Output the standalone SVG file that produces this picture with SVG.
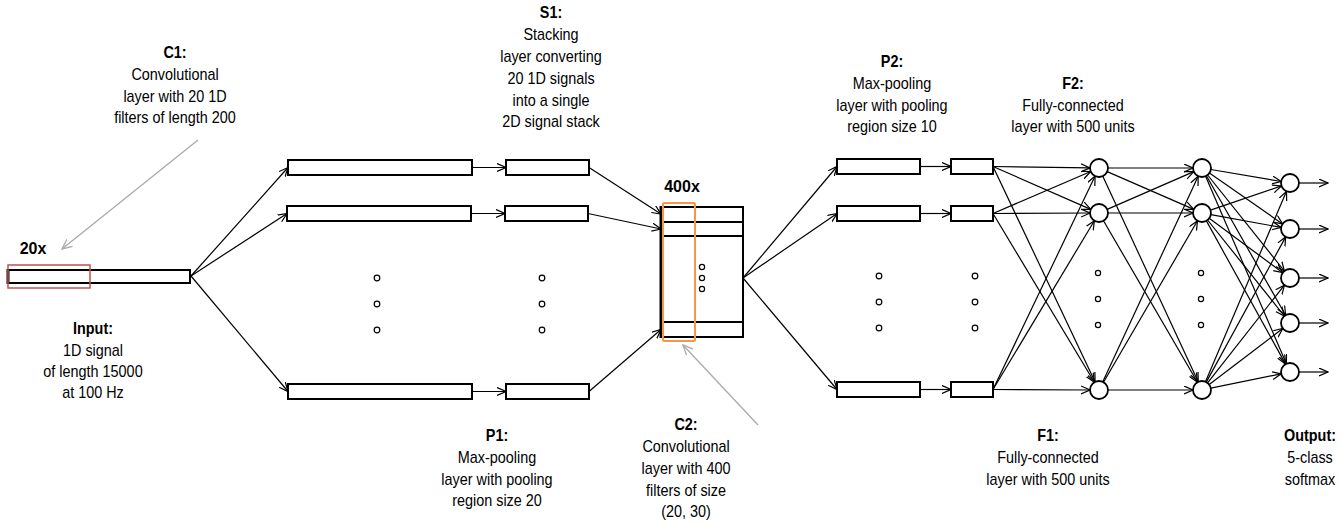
<svg xmlns="http://www.w3.org/2000/svg" width="1340" height="525" viewBox="0 0 1340 525">
<defs>
<marker id="ah" markerWidth="10" markerHeight="10" refX="9" refY="4.5" orient="auto" markerUnits="userSpaceOnUse">
<path d="M0,0.5 L9,4.5 L0,8.5" fill="none" stroke="#000" stroke-width="1.2"/>
</marker>
<marker id="ahg" markerWidth="12" markerHeight="12" refX="10" refY="5" orient="auto" markerUnits="userSpaceOnUse">
<path d="M0,0.5 L10,5 L0,9.5" fill="none" stroke="#aaa" stroke-width="1.3"/>
</marker>
</defs>
<style>
.bar{fill:#fff;stroke:#000;stroke-width:2}
.n{fill:#fff;stroke:#000;stroke-width:1.8}
.dot{fill:#fff;stroke:#000;stroke-width:1.2}
.c line{stroke:#000;stroke-width:1.2;marker-end:url(#ah)}
.g{stroke:#aaa;stroke-width:1.3;fill:none}
text{font-family:"Liberation Sans",Arial,sans-serif;font-size:16px;fill:#000;text-anchor:middle}
.b{font-weight:bold}
</style>
<rect width="1340" height="525" fill="#fff"/>

<!-- connectors -->
<g id="connectors" class="c">
<line x1="191" y1="276" x2="288" y2="167.5"/>
<line x1="191" y1="276" x2="287" y2="213.5"/>
<line x1="191" y1="276" x2="288" y2="391.5"/>
<line x1="472" y1="167.5" x2="506" y2="167.5"/>
<line x1="471" y1="213.5" x2="505" y2="213.5"/>
<line x1="472" y1="391.5" x2="506" y2="391.5"/>
<line x1="589" y1="167.5" x2="661" y2="214"/>
<line x1="588" y1="213.5" x2="661" y2="229"/>
<line x1="589" y1="391.5" x2="661" y2="329.5"/>
<line x1="743" y1="278" x2="837" y2="166.5"/>
<line x1="743" y1="278" x2="837" y2="213.5"/>
<line x1="743" y1="278" x2="837" y2="389.5"/>
<line x1="920" y1="166.5" x2="951" y2="166.5"/>
<line x1="920" y1="213.5" x2="951" y2="213.5"/>
<line x1="920" y1="389.5" x2="951" y2="389.5"/>
<!-- P2 -> F1 -->
<line x1="993" y1="166.5" x2="1090" y2="167.9"/>
<line x1="993" y1="166.5" x2="1090.8" y2="209.4"/>
<line x1="993" y1="166.5" x2="1095.1" y2="381.9"/>
<line x1="993" y1="213.5" x2="1090.7" y2="171.5"/>
<line x1="993" y1="213.5" x2="1090" y2="213"/>
<line x1="993" y1="213.5" x2="1094.4" y2="382.3"/>
<line x1="993" y1="389.5" x2="1095.1" y2="176.1"/>
<line x1="993" y1="389.5" x2="1094.4" y2="220.7"/>
<line x1="993" y1="389.5" x2="1090" y2="390"/>
<!-- F1 -> F2 -->
<line x1="1108" y1="168" x2="1193" y2="168"/>
<line x1="1107.2" y1="171.6" x2="1193.8" y2="209.4"/>
<line x1="1102.8" y1="176.2" x2="1198.2" y2="381.8"/>
<line x1="1107.2" y1="209.4" x2="1193.8" y2="171.6"/>
<line x1="1108" y1="213" x2="1193" y2="213"/>
<line x1="1103.5" y1="220.8" x2="1197.5" y2="382.2"/>
<line x1="1102.8" y1="381.8" x2="1198.2" y2="176.2"/>
<line x1="1103.5" y1="382.2" x2="1197.5" y2="220.8"/>
<line x1="1108" y1="390" x2="1193" y2="390"/>
<!-- F2 -> Output -->
<line x1="1210.9" y1="169.5" x2="1281.1" y2="181.5"/>
<line x1="1209.4" y1="173.1" x2="1282.6" y2="223.9"/>
<line x1="1207.6" y1="175.0" x2="1284.4" y2="271.0"/>
<line x1="1206.4" y1="175.8" x2="1285.6" y2="315.2"/>
<line x1="1205.6" y1="176.3" x2="1286.4" y2="363.7"/>
<line x1="1210.5" y1="210.1" x2="1281.5" y2="185.9"/>
<line x1="1210.9" y1="214.6" x2="1281.1" y2="227.4"/>
<line x1="1209.2" y1="218.3" x2="1282.8" y2="272.7"/>
<line x1="1207.6" y1="220.0" x2="1284.4" y2="316.0"/>
<line x1="1206.4" y1="220.9" x2="1285.6" y2="364.1"/>
<line x1="1205.5" y1="381.7" x2="1286.5" y2="191.3"/>
<line x1="1206.3" y1="382.1" x2="1285.7" y2="236.9"/>
<line x1="1207.6" y1="382.9" x2="1284.4" y2="285.1"/>
<line x1="1209.2" y1="384.5" x2="1282.8" y2="328.5"/>
<line x1="1210.8" y1="388.2" x2="1281.2" y2="373.8"/>
<!-- output arrows -->
<line x1="1299" y1="183" x2="1328" y2="183"/>
<line x1="1299" y1="229" x2="1328" y2="229"/>
<line x1="1299" y1="278" x2="1328" y2="278"/>
<line x1="1299" y1="323" x2="1328" y2="323"/>
<line x1="1299" y1="372" x2="1328" y2="372"/>
</g>
<g id="callouts">
<line class="g" x1="198" y1="140" x2="62" y2="249" marker-end="url(#ahg)"/>
<line class="g" x1="758" y1="425" x2="683" y2="345" marker-end="url(#ahg)"/>
</g>

<!-- Input -->
<g id="input">
<rect class="bar" x="8" y="270" width="182" height="13"/>
<line x1="8" y1="269" x2="8" y2="284" stroke="#000" stroke-width="3"/>
<rect x="8" y="265" width="82" height="23" fill="none" stroke="#c0504d" stroke-width="1.5"/>
<text class="b" x="33" y="254">20x</text>
<g transform="translate(93,0) scale(0.9,1)">
<text class="b" x="0" y="334">Input:</text>
<text x="0" y="356">1D signal</text>
<text x="0" y="377">of length 15000</text>
<text x="0" y="398">at 100 Hz</text>
</g>
</g>

<!-- C1 -->
<g id="c1">
<rect class="bar" x="288" y="160" width="184" height="15"/>
<rect class="bar" x="287" y="206" width="184" height="15"/>
<rect class="bar" x="288" y="384" width="184" height="15"/>
<circle class="dot" cx="377" cy="278" r="2.8"/>
<circle class="dot" cx="377" cy="304" r="2.8"/>
<circle class="dot" cx="377" cy="330" r="2.8"/>
<g transform="translate(175,0) scale(0.9,1)">
<text class="b" x="0" y="58">C1:</text>
<text x="0" y="80">Convolutional</text>
<text x="0" y="102">layer with 20 1D</text>
<text x="0" y="123">filters of length 200</text>
</g>
</g>

<!-- P1 -->
<g id="p1">
<rect class="bar" x="506" y="160" width="83" height="15"/>
<rect class="bar" x="505" y="206" width="83" height="15"/>
<rect class="bar" x="506" y="384" width="83" height="15"/>
<circle class="dot" cx="542" cy="278" r="2.8"/>
<circle class="dot" cx="542" cy="304" r="2.8"/>
<circle class="dot" cx="542" cy="330" r="2.8"/>
<g transform="translate(497,0) scale(0.9,1)">
<text class="b" x="0" y="441">P1:</text>
<text x="0" y="463">Max-pooling</text>
<text x="0" y="485">layer with pooling</text>
<text x="0" y="506">region size 20</text>
</g>
</g>

<!-- S1 -->
<g id="s1">
<rect class="bar" x="661" y="207" width="82" height="130"/>
<line x1="661" y1="222" x2="743" y2="222" stroke="#000" stroke-width="2"/>
<line x1="661" y1="236" x2="743" y2="236" stroke="#000" stroke-width="2"/>
<line x1="661" y1="322" x2="743" y2="322" stroke="#000" stroke-width="2"/>
<line x1="661" y1="206" x2="661" y2="338" stroke="#000" stroke-width="3"/>
<circle class="dot" cx="702" cy="267" r="2.6"/>
<circle class="dot" cx="702" cy="278" r="2.6"/>
<circle class="dot" cx="702" cy="289" r="2.6"/>
<text class="b" x="682" y="192">400x</text>
<g transform="translate(551,0) scale(0.9,1)">
<text class="b" x="0" y="18">S1:</text>
<text x="0" y="40">Stacking</text>
<text x="0" y="62">layer converting</text>
<text x="0" y="84">20 1D signals</text>
<text x="0" y="106">into a single</text>
<text x="0" y="127">2D signal stack</text>
</g>
</g>

<!-- C2 -->
<g id="c2">
<rect x="663" y="203" width="32" height="138" rx="1.5" fill="none" stroke="#f79646" stroke-width="2"/>
<g transform="translate(686,0) scale(0.9,1)">
<text class="b" x="0" y="430">C2:</text>
<text x="0" y="452">Convolutional</text>
<text x="0" y="474">layer with 400</text>
<text x="0" y="496">filters of size</text>
<text x="0" y="517">(20, 30)</text>
</g>
</g>

<!-- P2 conv + pool -->
<g id="p2">
<rect class="bar" x="837" y="159" width="83" height="15"/>
<rect class="bar" x="837" y="206" width="83" height="15"/>
<rect class="bar" x="837" y="382" width="83" height="15"/>
<rect class="bar" x="951" y="159" width="42" height="15"/>
<rect class="bar" x="951" y="206" width="42" height="15"/>
<rect class="bar" x="951" y="382" width="42" height="15"/>
<circle class="dot" cx="879" cy="276" r="2.8"/>
<circle class="dot" cx="879" cy="302" r="2.8"/>
<circle class="dot" cx="879" cy="328" r="2.8"/>
<circle class="dot" cx="975" cy="276" r="2.8"/>
<circle class="dot" cx="975" cy="302" r="2.8"/>
<circle class="dot" cx="975" cy="328" r="2.8"/>
<g transform="translate(892,0) scale(0.9,1)">
<text class="b" x="0" y="67">P2:</text>
<text x="0" y="89">Max-pooling</text>
<text x="0" y="111">layer with pooling</text>
<text x="0" y="132">region size 10</text>
</g>
</g>

<!-- F1 -->
<g id="f1">
<circle class="n" cx="1099" cy="168" r="9"/>
<circle class="n" cx="1099" cy="213" r="9"/>
<circle class="n" cx="1099" cy="390" r="9"/>
<circle class="dot" cx="1098" cy="273" r="2.6"/>
<circle class="dot" cx="1098" cy="299" r="2.6"/>
<circle class="dot" cx="1098" cy="325" r="2.6"/>
<g transform="translate(1048,0) scale(0.9,1)">
<text class="b" x="0" y="441">F1:</text>
<text x="0" y="463">Fully-connected</text>
<text x="0" y="485">layer with 500 units</text>
</g>
</g>

<!-- F2 -->
<g id="f2">
<circle class="n" cx="1202" cy="168" r="9"/>
<circle class="n" cx="1202" cy="213" r="9"/>
<circle class="n" cx="1202" cy="390" r="9"/>
<circle class="dot" cx="1201" cy="273" r="2.6"/>
<circle class="dot" cx="1201" cy="299" r="2.6"/>
<circle class="dot" cx="1201" cy="325" r="2.6"/>
<g transform="translate(1073,0) scale(0.9,1)">
<text class="b" x="0" y="89">F2:</text>
<text x="0" y="111">Fully-connected</text>
<text x="0" y="132">layer with 500 units</text>
</g>
</g>

<!-- Output -->
<g id="output">
<circle class="n" cx="1290" cy="183" r="9"/>
<circle class="n" cx="1290" cy="229" r="9"/>
<circle class="n" cx="1290" cy="278" r="9"/>
<circle class="n" cx="1290" cy="323" r="9"/>
<circle class="n" cx="1290" cy="372" r="9"/>
<g transform="translate(1310,0) scale(0.9,1)">
<text class="b" x="0" y="441">Output:</text>
<text x="0" y="463">5-class</text>
<text x="0" y="485">softmax</text>
</g>
</g>
</svg>
